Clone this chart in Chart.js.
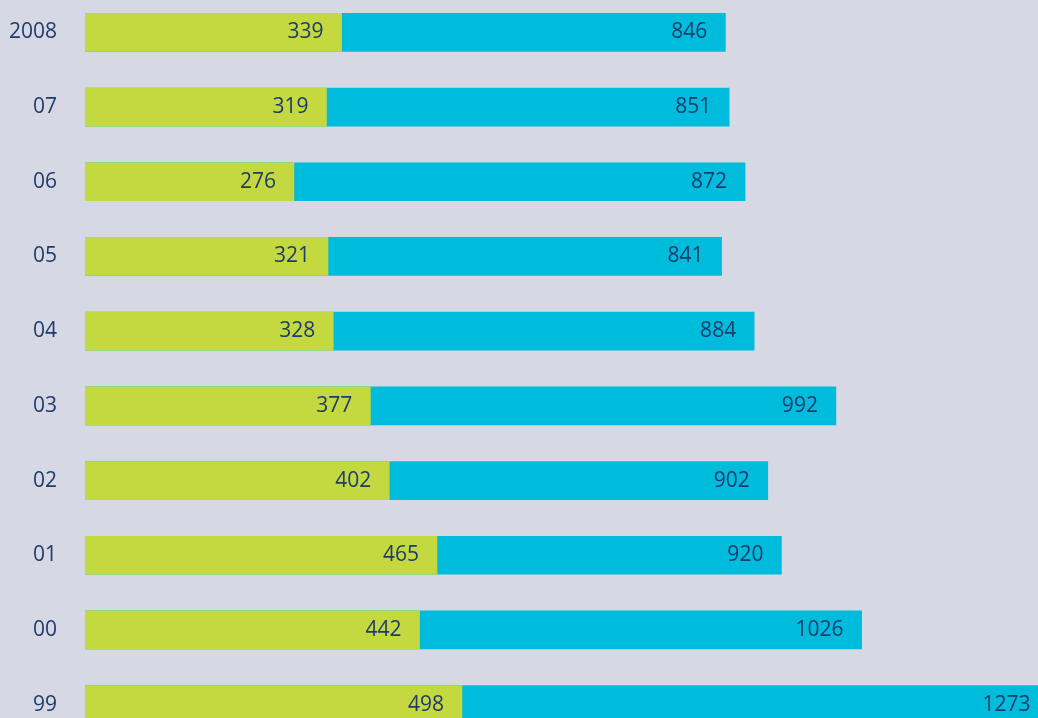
<!DOCTYPE html>
<html>
<head>
<meta charset="utf-8">
<script src="https://cdn.jsdelivr.net/npm/chart.js@4"></script>
<style>
    html, body { margin: 0; padding: 0; overflow: hidden; background: #d6d9e4; width: 1038px; height: 718px; }
    #wrap { position: absolute; left: 0; top: -5px; width: 1038px; height: 747px; }
</style>
</head>
<body>
<div id="wrap"><canvas id="chart"></canvas></div>
<script>
const years = ['2008', '07', '06', '05', '04', '03', '02', '01', '00', '99'];
const greenValues = [339, 319, 276, 321, 328, 377, 402, 465, 442, 498];
const totalValues = [846, 851, 872, 841, 884, 992, 902, 920, 1026, 1273];

const textColor = '#1f3b6b';
const font = { family: "'Open Sans', sans-serif", size: 21 };

// value labels right-aligned inside the end of each bar
const barLabels = {
    id: 'barLabels',
    afterDatasetsDraw(chart) {
        const ctx = chart.ctx;
        ctx.save();
        ctx.font = `${font.size}px ${font.family}`;
        ctx.fillStyle = textColor;
        ctx.textAlign = 'right';
        ctx.textBaseline = 'middle';
        chart.data.datasets.forEach((ds, i) => {
            chart.getDatasetMeta(i).data.forEach((bar, j) => {
                ctx.fillText(ds.data[j], bar.x - 18, bar.y);
            });
        });
        ctx.restore();
    }
};

new Chart(document.getElementById('chart'), {
    type: 'bar',
    data: {
        labels: years,
        datasets: [
            { label: 'green', data: greenValues, backgroundColor: '#c3d93f', grouped: false },
            { label: 'total', data: totalValues, backgroundColor: '#00bcdc', grouped: false }
        ]
    },
    options: {
        indexAxis: 'y',
        responsive: true,
        maintainAspectRatio: false,
        animation: false,
        barThickness: 38,
        layout: { padding: 0 },
        plugins: { legend: { display: false }, tooltip: { enabled: false } },
        scales: {
            x: { display: false, min: 0, max: 1259 },
            y: {
                grid: { display: false, drawTicks: false },
                border: { display: false },
                ticks: { color: textColor, font, padding: 28 },
                afterFit: s => { s.width = 85; s.paddingTop = 0; s.paddingBottom = 0; }
            }
        }
    },
    plugins: [barLabels]
});
</script>
</body>
</html>
